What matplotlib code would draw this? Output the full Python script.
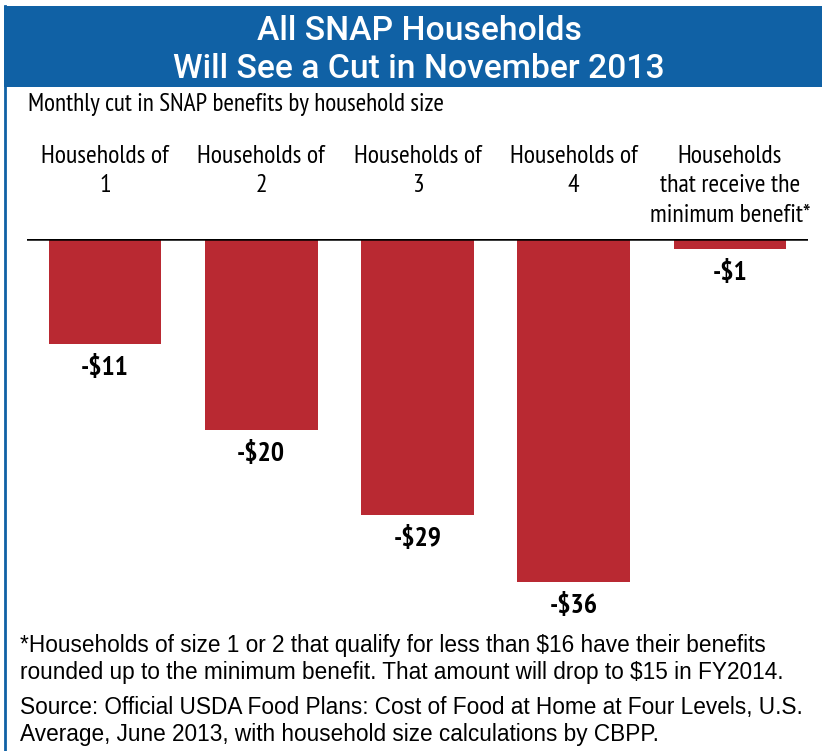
import matplotlib.pyplot as plt
from matplotlib.patches import Rectangle
from matplotlib.lines import Line2D

categories = ['Households of\n1', 'Households of\n2', 'Households of\n3',
              'Households of\n4', 'Households\nthat receive the\nminimum benefit*']
cuts = [-11, -20, -29, -36, -1]
value_labels = ['-$11', '-$20', '-$29', '-$36', '-$1']

title = 'All SNAP Households\nWill See a Cut in November 2013'
subtitle = 'Monthly cut in SNAP benefits by household size'
footnote = ('*Households of size 1 or 2 that qualify for less than $16 have their benefits\n'
            'rounded up to the minimum benefit. That amount will drop to $15 in FY2014.')
source = ('Source: Official USDA Food Plans: Cost of Food at Home at Four Levels, U.S.\n'
          'Average, June 2013, with household size calculations by CBPP.')

blue = '#1061a5'
red = '#b92932'
narrow = ['PT Sans Narrow', 'DejaVu Sans']
sans = ['Liberation Sans', 'DejaVu Sans']

W, H = 822, 751
fig = plt.figure(figsize=(W / 100, H / 100), dpi=100)

# banner + left border
fig.patches.append(Rectangle((4 / W, 1 - 87 / H), 1, 81 / H, transform=fig.transFigure,
                             facecolor=blue, edgecolor='none'))
fig.lines.append(Line2D([5 / W, 5 / W], [0, 1 - 6 / H], transform=fig.transFigure,
                        color=blue, linewidth=2))

fig.text(419 / W, 1 - 50 / H, title, ha='center', va='center', color='white',
         fontsize=24.2, family=['Roboto', 'DejaVu Sans'], weight='medium', linespacing=1.2)
fig.text(28 / W, 1 - 105 / H, subtitle, ha='left', va='center', fontsize=18.2, family=narrow)

# axes: x from 27 to 808 px, y from baseline 239 to 620 px
ax = fig.add_axes([27 / W, 1 - 620 / H, 781 / W, 381 / H])
scale = 343 / 36
ax.set_xlim(-0.5, 4.5)
ax.set_ylim(-(620 - 239) / scale, 0)
ax.axis('off')

x = range(len(cuts))
ax.bar(x, cuts, width=0.72, color=red)
ax.axhline(0, color='black', linewidth=1.8)

for i, (v, lab) in enumerate(zip(cuts, value_labels)):
    ax.annotate(lab, (i, v), xytext=(0, -17), textcoords='offset points',
                ha='center', va='center', fontsize=20, weight='bold', family=narrow)

for i, cat in enumerate(categories):
    xf = (27 + (i + 0.5) * 781 / 5) / W
    fig.text(xf, 1 - 145 / H, cat, ha='center', va='top', fontsize=18.5, family=narrow,
             linespacing=1.35)

fig.text(20 / W, 1 - 659 / H, footnote, ha='left', va='center', fontsize=16.3,
         family=sans, linespacing=1.2)
fig.text(20 / W, 1 - 721 / H, source, ha='left', va='center', fontsize=16.3,
         family=sans, linespacing=1.2)

fig.savefig('out.png', dpi=100)
